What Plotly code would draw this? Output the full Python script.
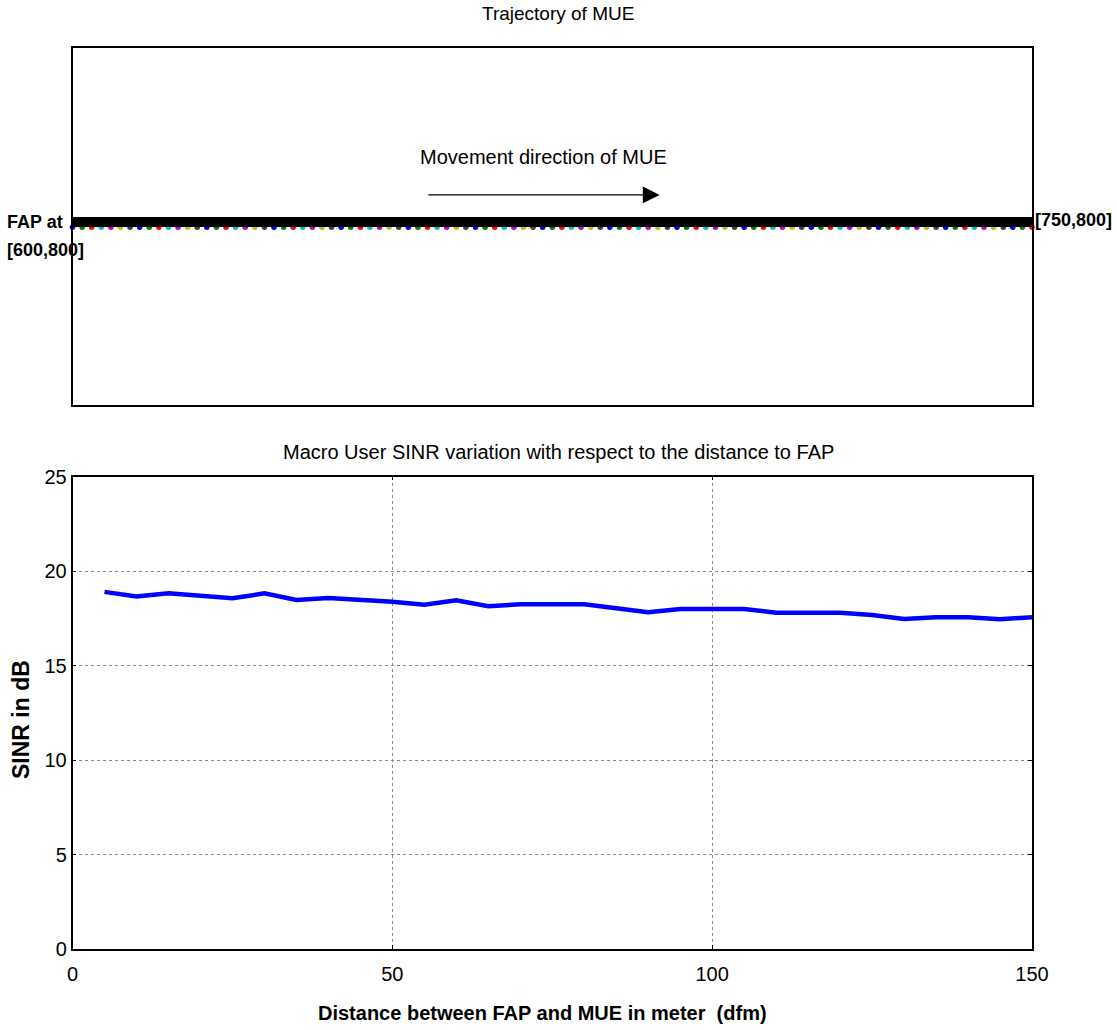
import plotly.graph_objects as go

# ---- data -------------------------------------------------------------
# MUE trajectory: 101 positions from [600,800] to [750,800]
traj_x = [600 + 1.5 * i for i in range(101)]
traj_y = [800] * 101

# classic MATLAB colour order used to colour successive trajectory points
point_colors = ["#0000FF", "#008000", "#FF0000", "#00BFBF",
                "#BF00BF", "#BFBF00", "#404040"]

# macro user SINR against distance to FAP
dfm = [5, 10, 15, 20, 25, 30, 35, 40, 45, 50, 55, 60, 65, 70, 75,
       80, 85, 90, 95, 100, 105, 110, 115, 120, 125, 130, 135, 140, 145, 150]
sinr_db = [18.90, 18.66, 18.82, 18.70, 18.56, 18.82, 18.47, 18.58, 18.49, 18.38,
           18.22, 18.45, 18.14, 18.24, 18.24, 18.24, 18.03, 17.82, 17.99, 17.99,
           17.99, 17.80, 17.80, 17.80, 17.68, 17.47, 17.56, 17.56, 17.45, 17.56]

x_ticks = [0, 50, 100, 150]
y_ticks = [0, 5, 10, 15, 20, 25]

# ---- layout helpers ---------------------------------------------------
W, H = 1117, 1030
FONT = "Liberation Sans, Arial, sans-serif"


def px_x(p):
    return p / W


def px_y(p):
    return (H - p) / H


traj_range = [789.75, 809.75]
marker_drop = 0.29  # dots sit just beneath the thick path line

fig = go.Figure()

# coloured position markers
fig.add_trace(go.Scatter(
    x=traj_x, y=[v - marker_drop for v in traj_y], mode="markers",
    marker=dict(size=5.5, color=[point_colors[i % len(point_colors)] for i in range(len(traj_x))]),
    xaxis="x", yaxis="y", showlegend=False, hoverinfo="skip", cliponaxis=False))

# thick path line
fig.add_trace(go.Scatter(
    x=traj_x, y=traj_y, mode="lines", line=dict(color="black", width=10),
    xaxis="x", yaxis="y", showlegend=False))

# SINR curve
fig.add_trace(go.Scatter(
    x=dfm, y=sinr_db, mode="lines", line=dict(color="#0000FF", width=4.5),
    xaxis="x2", yaxis="y2", showlegend=False))

axis_common = dict(showline=True, linecolor="black", linewidth=1.5, mirror="allticks",
                   ticks="inside", ticklen=4, tickcolor="black", zeroline=False,
                   automargin=False)

fig.update_layout(
    width=W, height=H, autosize=False,
    margin=dict(l=0, r=0, t=0, b=0, pad=0, autoexpand=False),
    paper_bgcolor="white", plot_bgcolor="white",
    font=dict(family=FONT, size=20, color="black"),
    xaxis=dict(domain=[px_x(72.5), px_x(1032)], range=[600, 750], anchor="y",
               tickvals=[600, 750], showticklabels=False, showgrid=False, **axis_common),
    yaxis=dict(domain=[px_y(405), px_y(48)], range=traj_range, anchor="x",
               tickvals=traj_range, showticklabels=False, showgrid=False, **axis_common),
    xaxis2=dict(domain=[px_x(72.5), px_x(1032)], range=[0, 150], anchor="y2",
                tickvals=x_ticks, showgrid=True, gridcolor="#888888", griddash="dot",
                gridwidth=1, tickfont=dict(size=20), ticklabelstandoff=6, **axis_common),
    yaxis2=dict(domain=[px_y(949), px_y(476.6)], range=[0, 25], anchor="x2",
                tickvals=y_ticks, showgrid=True, gridcolor="#888888", griddash="dot",
                gridwidth=1, tickfont=dict(size=20), **axis_common),
)

ann = [
    dict(text="Trajectory of MUE", x=px_x(558), y=px_y(14), size=19, bold=False),
    dict(text="Macro User SINR variation with respect to the distance to FAP",
         x=px_x(558), y=px_y(452), size=20, bold=False),
    dict(text="Distance between FAP and MUE in meter  (dfm)",
         x=px_x(542), y=px_y(1013), size=20, bold=True),
]
for a in ann:
    txt = f"<b>{a['text']}</b>" if a["bold"] else a["text"]
    fig.add_annotation(text=txt, x=a["x"], y=a["y"], xref="paper", yref="paper",
                       xanchor="center", yanchor="middle", showarrow=False,
                       font=dict(family=FONT, size=a["size"], color="black"))

# y-axis title
fig.add_annotation(text="<b>SINR in dB</b>", x=px_x(21), y=px_y(720), xref="paper",
                   yref="paper", xanchor="center", yanchor="middle", textangle=-90,
                   showarrow=False, font=dict(family=FONT, size=23, color="black"))

# endpoint labels
fig.add_annotation(text="<b>FAP at</b>", x=px_x(5), y=px_y(222), xref="paper", yref="paper",
                   xanchor="left", yanchor="middle", showarrow=False,
                   font=dict(family=FONT, size=18))
fig.add_annotation(text="<b>[600,800]</b>", x=px_x(5), y=px_y(250), xref="paper", yref="paper",
                   xanchor="left", yanchor="middle", showarrow=False,
                   font=dict(family=FONT, size=18))
fig.add_annotation(text="<b>[750,800]</b>", x=px_x(1033), y=px_y(220), xref="paper", yref="paper",
                   xanchor="left", yanchor="middle", showarrow=False,
                   font=dict(family=FONT, size=18))

# movement direction label and arrow
fig.add_annotation(text="Movement direction of MUE", x=px_x(543), y=px_y(157),
                   xref="paper", yref="paper", xanchor="center", yanchor="middle",
                   showarrow=False, font=dict(family=FONT, size=20))
fig.add_annotation(text="", x=691.8, y=801.52, ax=655.4, ay=801.52,
                   xref="x", yref="y", axref="x", ayref="y",
                   showarrow=True, arrowhead=2, arrowsize=2.6, arrowwidth=1.3,
                   arrowcolor="black")

fig.write_html("out.html")
